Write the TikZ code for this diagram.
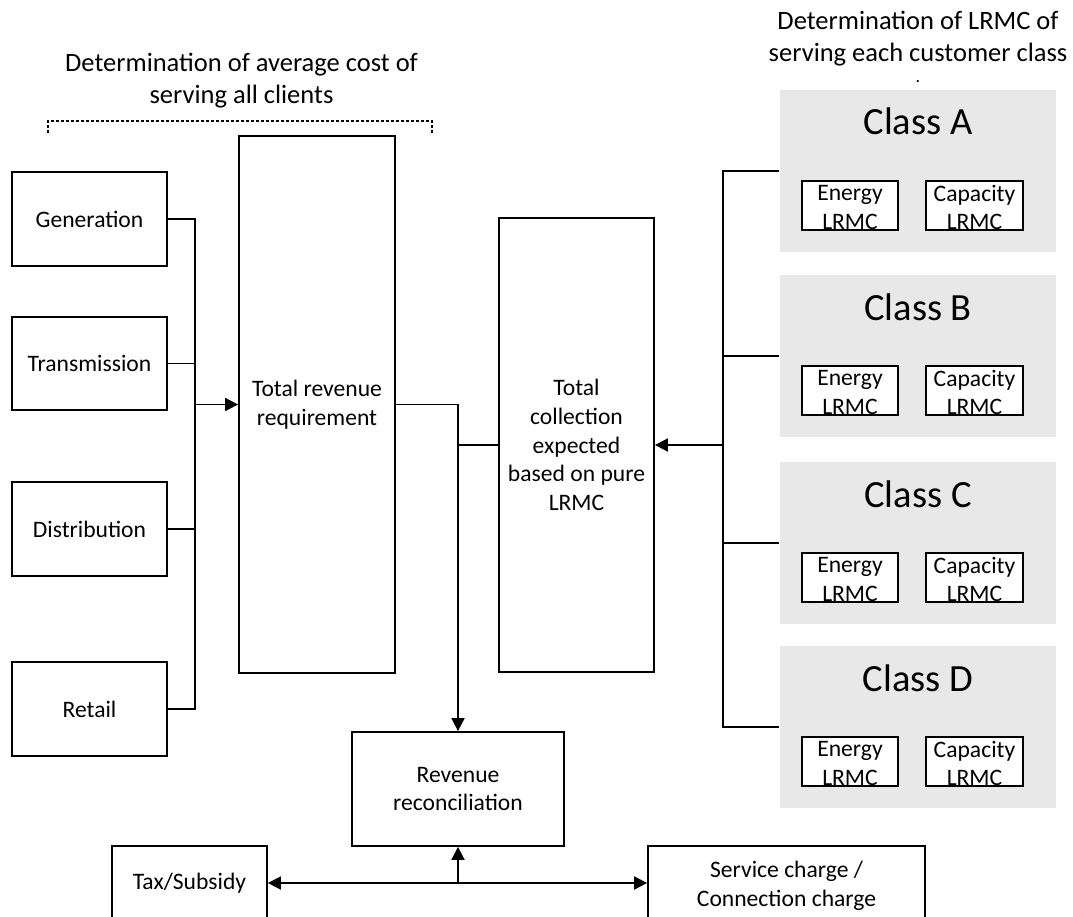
\documentclass[tikz,border=0pt]{standalone}
\usepackage{fontspec}
\setmainfont{Carlito}
\usetikzlibrary{arrows.meta}
\definecolor{clsgray}{RGB}{232,232,232}
\begin{document}
\begin{tikzpicture}[x=1pt,y=-1pt,
  line width=1.8pt,
  box/.style={draw=black, line width=1.8pt, fill=white, inner sep=0pt, align=center,
    font=\fontsize{23.6}{28.8}\selectfont},
  txt/.style={inner sep=0pt, align=center, font=\fontsize{23.6}{28.3}\selectfont},
  hdr/.style={inner sep=0pt, align=center, font=\fontsize{26.5}{32}\selectfont},
  clsbox/.style={fill=clsgray, draw=none, minimum width=276pt, minimum height=162pt, inner sep=0pt},
  ctitle/.style={inner sep=0pt, anchor=base, font=\fontsize{38.5}{44}\selectfont},
  lrmcbox/.style={draw=black, line width=1.6pt, fill=white, inner sep=0pt, minimum height=49pt},
  arr/.style={-{Triangle[length=13pt,width=13pt]}},
  dbl/.style={{Triangle[length=13pt,width=13pt]}-{Triangle[length=13pt,width=13pt]}},
  brace/.style={line width=1.5pt, dash pattern=on 3pt off 2pt}
]
\clip (0,0) rectangle (1073,917);
\fill[white] (0,0) rectangle (1073,917);

% headers
\node[hdr] (hleft) at (241.5,81) {Determination of average cost of\\serving all clients};
\node[hdr] (hright) at (918,39) {Determination of LRMC of\\serving each customer class};
\node[hdr, anchor=base, font=\fontsize{18}{22}\selectfont] (hdot) at (918,83) {.};
\coordinate (brL) at (48,133);
\coordinate (brR) at (432,133);
\draw[brace] (brL) -- ++(0,-12) -| (brR);

% left boxes
\node[box, minimum width=155pt, minimum height=94pt] (gen) at (89.5,219) {Generation};
\node[box, minimum width=155pt, minimum height=93pt] (trans) at (89.5,363.5) {Transmission};
\node[box, minimum width=155pt, minimum height=94pt] (dist) at (89.5,529) {Distribution};
\node[box, minimum width=155pt, minimum height=94pt] (retail) at (89.5,709) {Retail};

% central boxes
\node[box, minimum width=156pt, minimum height=537pt] (trr) at (317,404.5) {Total revenue\\requirement};
\node[box, minimum width=155pt, minimum height=454pt] (tce) at (576.5,445) {Total\\collection\\expected\\based on pure\\LRMC};
\node[box, minimum width=212pt, minimum height=114pt] (rev) at (458,789) {Revenue\\reconciliation};
\node[box, minimum width=155pt, minimum height=74pt] (tax) at (189.5,883) {Tax/Subsidy};
\node[box, minimum width=277pt, minimum height=80pt] (svc) at (786.5,886) {Service charge /\\Connection charge};

% class boxes
\foreach \nm/\cy/\lab in {clsA/171/A, clsB/356/B, clsC/543/C, clsD/727/D}{
  \node[clsbox] (\nm) at (918,\cy) {};
  \node[ctitle] (\nm t) at (918,\cy-36) {Class \lab};
  \node[lrmcbox, minimum width=96pt] (\nm e) at (850,\cy+34.5) {};
  \node[txt, yshift=-2pt] (\nm et) at (\nm e) {Energy\\LRMC};
  \node[lrmcbox, minimum width=97pt] (\nm c) at (974.5,\cy+34.5) {};
  \node[txt, yshift=-2pt] (\nm ct) at (\nm c) {Capacity\\LRMC};
}

% left bus
\coordinate (busL) at (195,0);
\draw (gen.east) -- (gen.east -| busL) -- (retail.east -| busL) -- (retail.east);
\draw (trans.east) -- (trans.east -| busL);
\draw (dist.east) -- (dist.east -| busL);
\draw[arr] (trr.west -| busL) -- (trr.west);

% total revenue to reconciliation
\draw[arr] (trr.east) -| (rev.north);
\draw (tce.west) -- (tce.west -| rev.north);

% right bus
\coordinate (busR) at (723,0);
\draw (clsA.west) -- (clsA.west -| busR) -- (clsD.west -| busR) -- (clsD.west);
\draw (clsB.west) -- (clsB.west -| busR);
\draw (clsC.west) -- (clsC.west -| busR);
\draw[arr] (tce.east -| busR) -- (tce.east);

% bottom
\draw[dbl] (tax.east) -- (tax.east -| svc.west);
\draw[arr] (tax.east -| rev.south) -- (rev.south);
\end{tikzpicture}
\end{document}
